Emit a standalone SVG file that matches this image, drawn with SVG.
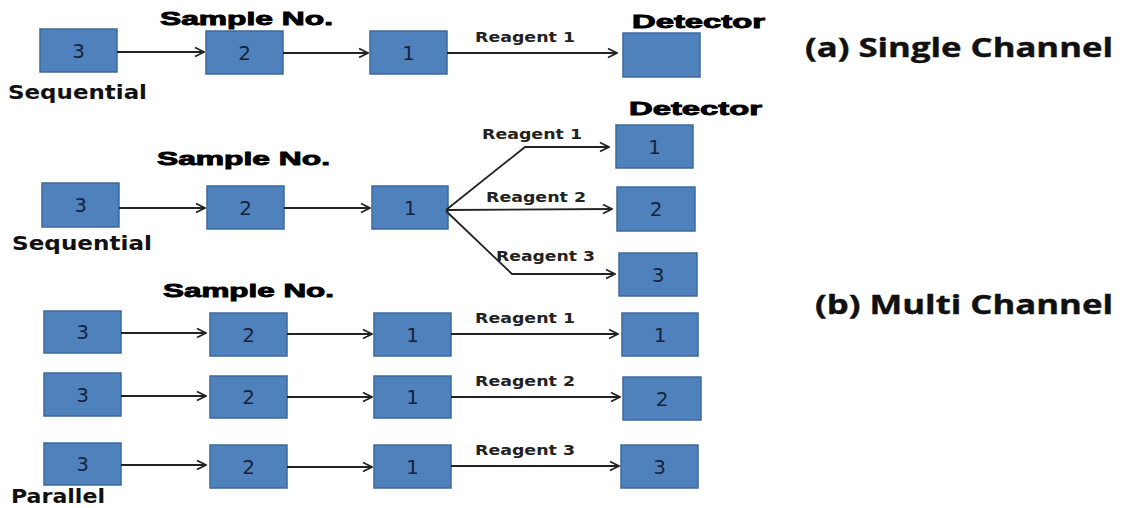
<svg xmlns="http://www.w3.org/2000/svg" width="1123" height="508" viewBox="0 0 1123 508">
  <defs>
    <marker id="chev" viewBox="0 0 12 12" refX="11" refY="6" markerWidth="12" markerHeight="12" markerUnits="userSpaceOnUse" orient="auto">
      <polyline points="2,1.5 11,6 2,10.5" fill="none" stroke="#222" stroke-width="1.8"/>
    </marker>
  </defs>
  <style>
    .box rect { fill: #4f81bd; stroke: #3d6a9c; stroke-width: 1.5; }
    .box text { font-family: "DejaVu Sans", Verdana, sans-serif; font-size: 20px; fill: #16243b; text-anchor: middle; dominant-baseline: central; }
    .link { fill: none; stroke: #222; stroke-width: 1.8; marker-end: url(#chev); }
    .heavy { font-family: "Liberation Sans", Arial, sans-serif; font-weight: bold; font-size: 19px; fill: #000; stroke: #000; stroke-width: 0.9; }
    .mode { font-family: "DejaVu Sans", Verdana, sans-serif; font-weight: bold; font-size: 19px; fill: #111; }
    .reagent { font-family: "DejaVu Sans", Verdana, sans-serif; font-weight: bold; font-size: 14px; fill: #222; }
    .title { font-family: "Open Sans", "Liberation Sans", sans-serif; font-weight: bold; font-size: 27px; fill: #111; stroke: #111; stroke-width: 0.4; }
  </style>

  <!-- headings -->
  <g id="labels">
    <text class="heavy" x="160" y="25" textLength="173" lengthAdjust="spacingAndGlyphs">Sample No.</text>
    <text class="heavy" x="632" y="28" textLength="133" lengthAdjust="spacingAndGlyphs">Detector</text>
    <text class="mode" x="8" y="99" textLength="139" lengthAdjust="spacingAndGlyphs">Sequential</text>
    <text class="reagent" x="475" y="42" textLength="100" lengthAdjust="spacingAndGlyphs">Reagent 1</text>
    <text class="title" x="805" y="57" textLength="308" lengthAdjust="spacingAndGlyphs">(a) Single Channel</text>

    <text class="heavy" x="629" y="115" textLength="133" lengthAdjust="spacingAndGlyphs">Detector</text>
    <text class="heavy" x="157" y="165" textLength="173" lengthAdjust="spacingAndGlyphs">Sample No.</text>
    <text class="mode" x="12" y="250" textLength="140" lengthAdjust="spacingAndGlyphs">Sequential</text>
    <text class="reagent" x="482" y="139" textLength="100" lengthAdjust="spacingAndGlyphs">Reagent 1</text>
    <text class="reagent" x="486" y="202" textLength="100" lengthAdjust="spacingAndGlyphs">Reagent 2</text>
    <text class="reagent" x="496" y="261" textLength="99" lengthAdjust="spacingAndGlyphs">Reagent 3</text>

    <text class="heavy" x="163" y="297" textLength="171" lengthAdjust="spacingAndGlyphs">Sample No.</text>
    <text class="reagent" x="475" y="323" textLength="100" lengthAdjust="spacingAndGlyphs">Reagent 1</text>
    <text class="reagent" x="475" y="386" textLength="100" lengthAdjust="spacingAndGlyphs">Reagent 2</text>
    <text class="reagent" x="475" y="455" textLength="100" lengthAdjust="spacingAndGlyphs">Reagent 3</text>
    <text class="mode" x="11" y="503" textLength="94" lengthAdjust="spacingAndGlyphs">Parallel</text>
    <text class="title" x="815" y="314" textLength="298" lengthAdjust="spacingAndGlyphs">(b) Multi Channel</text>
  </g>

  <!-- (a) single channel, sequential -->
  <g id="a-s3" class="box"><rect x="40" y="29" width="77" height="43"/><text x="78.5" y="50.5">3</text></g>
  <g id="a-s2" class="box"><rect x="206" y="31" width="77" height="43"/><text x="244.5" y="52.5">2</text></g>
  <g id="a-s1" class="box"><rect x="370" y="31" width="77" height="43"/><text x="408.5" y="52.5">1</text></g>
  <g id="a-det" class="box"><rect x="623" y="33" width="77" height="44"/></g>

  <!-- (b) multi channel, sequential -->
  <g id="bs-s3" class="box"><rect x="42" y="183" width="77" height="44"/><text x="80.5" y="205">3</text></g>
  <g id="bs-s2" class="box"><rect x="207" y="186" width="77" height="43"/><text x="245.5" y="207.5">2</text></g>
  <g id="bs-s1" class="box"><rect x="372" y="186" width="76" height="43"/><text x="410" y="207.5">1</text></g>
  <g id="bs-d1" class="box"><rect x="616" y="125" width="77" height="43"/><text x="654.5" y="146.5">1</text></g>
  <g id="bs-d2" class="box"><rect x="617" y="187" width="78" height="44"/><text x="656" y="209">2</text></g>
  <g id="bs-d3" class="box"><rect x="619" y="253" width="78" height="43"/><text x="658" y="274.5">3</text></g>

  <!-- (b) multi channel, parallel -->
  <g id="bp1-s3" class="box"><rect x="44" y="311" width="77" height="42"/><text x="82.5" y="332">3</text></g>
  <g id="bp1-s2" class="box"><rect x="210" y="313" width="77" height="43"/><text x="248.5" y="334.5">2</text></g>
  <g id="bp1-s1" class="box"><rect x="374" y="313" width="77" height="43"/><text x="412.5" y="334.5">1</text></g>
  <g id="bp1-d" class="box"><rect x="622" y="313" width="76" height="43"/><text x="660" y="334.5">1</text></g>

  <g id="bp2-s3" class="box"><rect x="44" y="373" width="77" height="43"/><text x="82.5" y="394.5">3</text></g>
  <g id="bp2-s2" class="box"><rect x="210" y="376" width="77" height="42"/><text x="248.5" y="397">2</text></g>
  <g id="bp2-s1" class="box"><rect x="374" y="376" width="77" height="42"/><text x="412.5" y="397">1</text></g>
  <g id="bp2-d" class="box"><rect x="623" y="377" width="78" height="43"/><text x="662" y="398.5">2</text></g>

  <g id="bp3-s3" class="box"><rect x="44" y="443" width="77" height="42"/><text x="82.5" y="464">3</text></g>
  <g id="bp3-s2" class="box"><rect x="210" y="445" width="77" height="43"/><text x="248.5" y="466.5">2</text></g>
  <g id="bp3-s1" class="box"><rect x="374" y="445" width="77" height="43"/><text x="412.5" y="466.5">1</text></g>
  <g id="bp3-d" class="box"><rect x="621" y="445" width="77" height="43"/><text x="659.5" y="466.5">3</text></g>

  <!-- connectors -->
  <g id="connectors">
    <path class="link" d="M117 52 H204"/>
    <path class="link" d="M283 53 H368"/>
    <path class="link" d="M447 53 H617"/>

    <path class="link" d="M119 208 H205"/>
    <path class="link" d="M284 208 H370"/>
    <path class="link" d="M446 210 L525 147 H609"/>
    <path class="link" d="M446 210 L612 209"/>
    <path class="link" d="M446 211 L512 274 H615"/>

    <path class="link" d="M121 333 H206"/>
    <path class="link" d="M287 334 H372"/>
    <path class="link" d="M451 334 H618"/>

    <path class="link" d="M121 396 H206"/>
    <path class="link" d="M287 397 H372"/>
    <path class="link" d="M451 397 H620"/>

    <path class="link" d="M121 465 H206"/>
    <path class="link" d="M287 467 H372"/>
    <path class="link" d="M451 466 H619"/>
  </g>
</svg>
